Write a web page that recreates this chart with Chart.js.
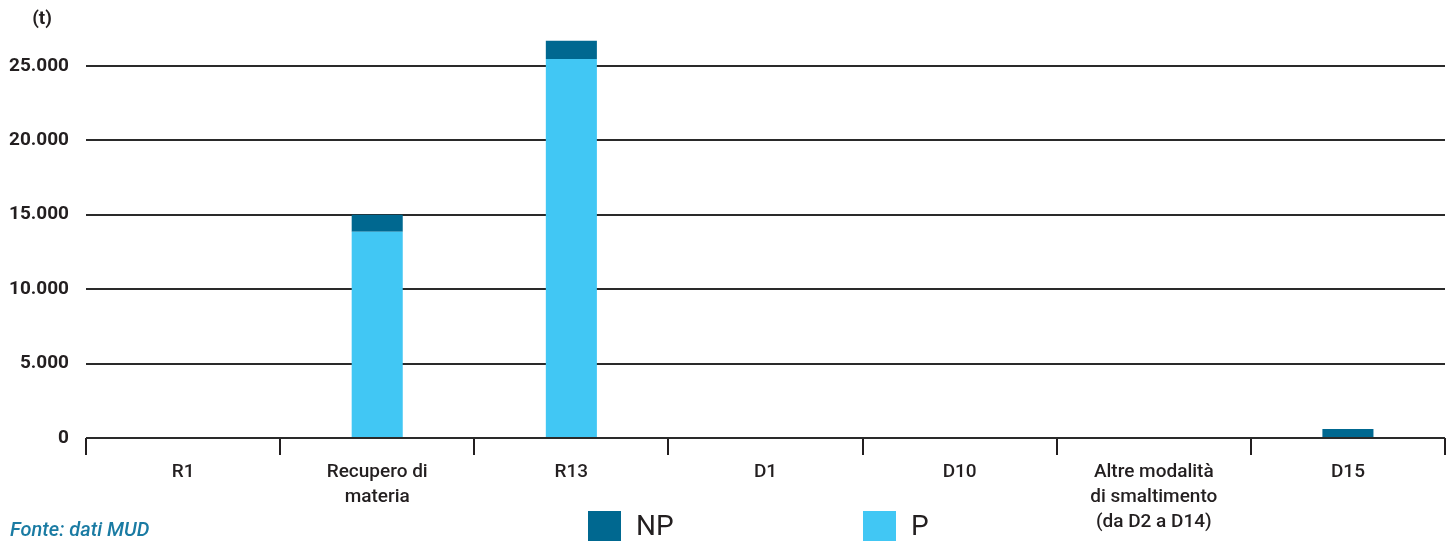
<!DOCTYPE html>
<html>
<head>
<meta charset="utf-8">
<script src="https://cdn.jsdelivr.net/npm/chart.js"></script>
<style>
    html, body { margin: 0; padding: 0; background: #fff; overflow: hidden; }
    #wrap { position: relative; width: 1454px; height: 541px; }
</style>
</head>
<body>
<div id="wrap"><canvas id="bar-chart"></canvas></div>
<script>
var categorie = ['R1', ['Recupero di', 'materia'], 'R13', 'D1', 'D10', ['Altre modalità', 'di smaltimento', '(da D2 a D14)'], 'D15'];
var valoriP = [0, 13850, 25450, 0, 0, 0, 0];
var valoriNP = [0, 1150, 1230, 0, 0, 0, 600];
var tickY = [0, 5000, 10000, 15000, 20000, 25000];

var testo = '#231f20';
var font = 'Roboto, "Liberation Sans", sans-serif';

// legenda disegnata a mano, in basso al centro (NP prima di P)
var legenda = {
    id: 'legenda',
    afterDraw: function (chart) {
        var ctx = chart.ctx;
        var pos = [588, 863];
        var ds = [chart.data.datasets[1], chart.data.datasets[0]];
        ctx.save();
        ds.forEach(function (d, i) {
            ctx.fillStyle = d.backgroundColor;
            ctx.fillRect(pos[i], 511, 33, 33);
            ctx.fillStyle = testo;
            ctx.font = '28px ' + font;
            ctx.textBaseline = 'middle';
            ctx.textAlign = 'left';
            ctx.fillText(d.label, pos[i] + 48, 528);
        });
        ctx.font = 'bold 19px ' + font;
        ctx.textAlign = 'center';
        ctx.fillText('(t)', 42, 19);
        ctx.font = 'italic 500 20px ' + font;
        ctx.fillStyle = '#1a7ba3';
        ctx.textAlign = 'left';
        ctx.fillText('Fonte: dati MUD', 10, 531);
        ctx.restore();
    }
};

var ctx = document.getElementById('bar-chart');
var chart = new Chart(ctx, {
    type: 'bar',
    data: {
        labels: categorie,
        datasets: [{
            label: 'P',
            backgroundColor: '#41c7f4',
            data: valoriP
        }, {
            label: 'NP',
            backgroundColor: '#006890',
            data: valoriNP
        }]
    },
    options: {
        responsive: true,
        maintainAspectRatio: false,
        animation: false,
        layout: { padding: { top: 36, right: 9, left: 0, bottom: 0 } },
        datasets: { bar: { barPercentage: 0.263, categoryPercentage: 1, borderWidth: 0 } },
        plugins: {
            legend: { display: false },
            tooltip: { enabled: false }
        },
        scales: {
            x: {
                stacked: true,
                afterFit: function (scale) { scale.height = 103; },
                border: { display: false },
                grid: { offset: true, drawOnChartArea: false, drawTicks: true, tickLength: 17, color: testo, lineWidth: 2 },
                ticks: { color: testo, padding: 5, maxRotation: 0, autoSkip: false, font: { family: font, size: 19, weight: '500', lineHeight: 1.3 } }
            },
            y: {
                stacked: true,
                min: 0,
                max: 27000,
                afterFit: function (scale) { scale.width = 86; },
                afterBuildTicks: function (scale) {
                    scale.ticks = tickY.map(function (v) { return { value: v }; });
                },
                border: { display: false },
                grid: { drawTicks: false, color: '#2a2a2a', lineWidth: 2 },
                ticks: {
                    color: testo,
                    padding: 17,
                    font: { family: font, size: 19, weight: 'bold' },
                    callback: function (v) { return String(v).replace(/\B(?=(\d{3})+(?!\d))/g, '.'); }
                }
            }
        }
    },
    plugins: [legenda]
});
</script>
</body>
</html>
